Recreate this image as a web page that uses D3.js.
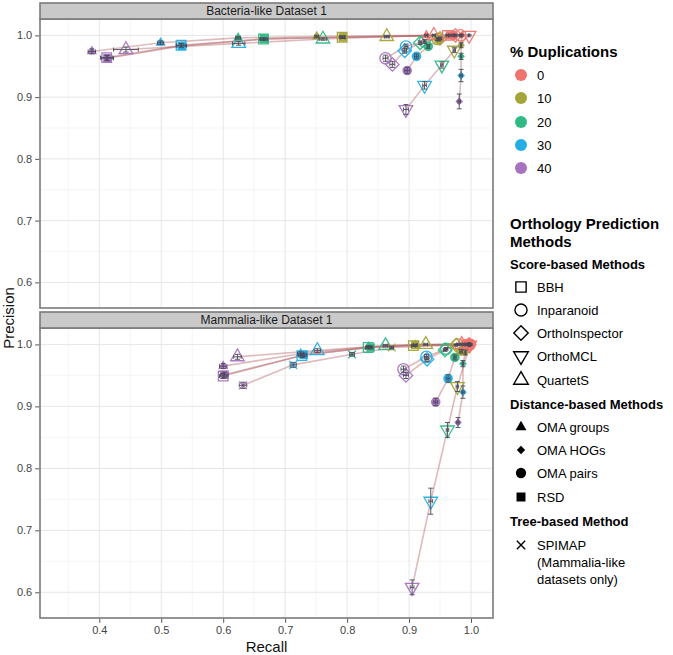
<!DOCTYPE html>
<html><head><meta charset="utf-8">
<script src="https://cdn.jsdelivr.net/npm/d3@7"></script>
<style>body{margin:0;background:#fff;} svg{display:block;font-family:"Liberation Sans",Arial,Helvetica,sans-serif;}</style>
</head><body><svg id="c" width="673" height="655"></svg>
<script>
// ---------------- DATA ----------------
const dupLevels = ["0", "10", "20", "30", "40"];
const dupColors = ["#F0746E", "#A4A43A", "#2FBA85", "#25AEE6", "#A772C0"];
const methods = ["BBH", "Inparanoid", "OrthoInspector", "OrthoMCL", "QuartetS", "OMA groups", "OMA HOGs", "OMA pairs", "RSD", "SPIMAP"];
const methodShapes = ["squareOpen", "circleOpen", "diamondOpen", "triDownOpen", "triUpOpen", "triUpFilled", "diamondFilled", "circleFilled", "squareFilled", "cross"];
const panelTitles = ["Bacteria-like Dataset 1", "Mammalia-like Dataset 1"];
const xTicks = [0.4, 0.5, 0.6, 0.7, 0.8, 0.9, 1.0];
const yTicks = [0.6, 0.7, 0.8, 0.9, 1.0];

// values ordered by duplication level 0,10,20,30,40 ; rows follow `methods`
const bactRecall = [
  [0.962, 0.792, 0.665, 0.532, 0.412],
  [0.983, 0.946, 0.925, 0.895, 0.862],
  [0.975, 0.950, 0.918, 0.893, 0.873],
  [0.997, 0.973, 0.953, 0.925, 0.895],
  [0.940, 0.864, 0.761, 0.625, 0.443],
  [0.928, 0.751, 0.624, 0.499, 0.388],
  [0.985, 0.984, 0.984, 0.984, 0.981],
  [0.972, 0.948, 0.931, 0.912, 0.897],
  [0.966, 0.793, 0.666, 0.533, 0.413],
  null
];
const bactPrecision = [
  [1.000, 0.997, 0.994, 0.984, 0.964],
  [1.000, 0.994, 0.990, 0.982, 0.963],
  [1.000, 0.995, 0.988, 0.975, 0.953],
  [1.000, 0.976, 0.952, 0.919, 0.880],
  [1.000, 0.998, 0.994, 0.987, 0.977],
  [1.000, 0.998, 0.996, 0.988, 0.974],
  [1.000, 0.984, 0.966, 0.935, 0.893],
  [1.000, 0.993, 0.982, 0.966, 0.943],
  [1.000, 0.997, 0.994, 0.983, 0.963],
  null
];
const bactRecallErr = [
  [0.002, 0.004, 0.006, 0.008, 0.010],
  [0.001, 0.002, 0.002, 0.003, 0.004],
  [0.001, 0.002, 0.002, 0.003, 0.004],
  [0.001, 0.002, 0.002, 0.003, 0.004],
  [0.002, 0.004, 0.006, 0.010, 0.020],
  [0.002, 0.003, 0.004, 0.005, 0.006],
  [0.001, 0.001, 0.001, 0.002, 0.002],
  [0.001, 0.002, 0.002, 0.003, 0.004],
  [0.002, 0.004, 0.006, 0.008, 0.010],
  null
];
const bactPrecisionErr = [
  [0.001, 0.002, 0.002, 0.003, 0.004],
  [0.001, 0.002, 0.003, 0.004, 0.005],
  [0.001, 0.002, 0.003, 0.004, 0.005],
  [0.001, 0.004, 0.005, 0.006, 0.008],
  [0.001, 0.002, 0.002, 0.003, 0.004],
  [0.001, 0.002, 0.002, 0.003, 0.004],
  [0.001, 0.004, 0.005, 0.010, 0.012],
  [0.001, 0.002, 0.003, 0.004, 0.005],
  [0.001, 0.002, 0.002, 0.003, 0.004],
  null
];
const mammRecall = [
  [0.995, 0.907, 0.834, 0.727, 0.600],
  [0.998, 0.979, 0.960, 0.928, 0.891],
  [0.997, 0.976, 0.958, 0.929, 0.895],
  [0.998, 0.978, 0.962, 0.935, 0.905],
  [0.985, 0.927, 0.862, 0.752, 0.623],
  [0.995, 0.910, 0.835, 0.725, 0.600],
  [0.999, 0.991, 0.987, 0.987, 0.979],
  [0.997, 0.984, 0.974, 0.963, 0.943],
  [0.997, 0.910, 0.838, 0.730, 0.602],
  [0.990, 0.872, 0.808, 0.713, 0.632]
];
const mammPrecision = [
  [1.000, 0.998, 0.995, 0.982, 0.949],
  [1.000, 1.000, 0.993, 0.980, 0.960],
  [1.000, 0.999, 0.991, 0.976, 0.950],
  [0.999, 0.932, 0.862, 0.747, 0.608],
  [1.000, 1.000, 0.998, 0.990, 0.980],
  [1.000, 0.999, 0.996, 0.985, 0.965],
  [1.000, 0.987, 0.969, 0.923, 0.874],
  [1.000, 0.989, 0.979, 0.945, 0.907],
  [1.000, 0.999, 0.995, 0.983, 0.951],
  [1.000, 0.995, 0.984, 0.967, 0.934]
];
const mammRecallErr = [
  [0.001, 0.003, 0.004, 0.005, 0.006],
  [0.001, 0.002, 0.002, 0.003, 0.004],
  [0.001, 0.002, 0.002, 0.003, 0.004],
  [0.001, 0.002, 0.002, 0.003, 0.003],
  [0.001, 0.003, 0.004, 0.005, 0.006],
  [0.001, 0.003, 0.004, 0.005, 0.006],
  [0.001, 0.001, 0.001, 0.002, 0.002],
  [0.001, 0.002, 0.002, 0.003, 0.003],
  [0.001, 0.003, 0.004, 0.005, 0.006],
  [0.001, 0.003, 0.004, 0.005, 0.006]
];
const mammPrecisionErr = [
  [0.001, 0.001, 0.002, 0.003, 0.004],
  [0.001, 0.001, 0.002, 0.004, 0.005],
  [0.001, 0.001, 0.002, 0.004, 0.005],
  [0.001, 0.008, 0.012, 0.021, 0.012],
  [0.001, 0.001, 0.002, 0.003, 0.004],
  [0.001, 0.001, 0.002, 0.003, 0.004],
  [0.001, 0.004, 0.005, 0.010, 0.008],
  [0.001, 0.003, 0.004, 0.006, 0.006],
  [0.001, 0.001, 0.002, 0.003, 0.004],
  [0.001, 0.002, 0.003, 0.004, 0.005]
];
const datasets = [
  {title: panelTitles[0], rec: bactRecall, prec: bactPrecision, recErr: bactRecallErr, precErr: bactPrecisionErr},
  {title: panelTitles[1], rec: mammRecall, prec: mammPrecision, recErr: mammRecallErr, precErr: mammPrecisionErr}
];

// legend content
const legendScore = ["BBH", "Inparanoid", "OrthoInspector", "OrthoMCL", "QuartetS"];
const legendDistance = ["OMA groups", "OMA HOGs", "OMA pairs", "RSD"];
const legendTree = ["SPIMAP"];

// ---------------- DRAW ----------------
const svg = d3.select("#c");
const panelLeft = 40, panelRight = 493;
const panels = [{stripTop: 3, top: 19, bottom: 308}, {stripTop: 312, top: 328, bottom: 618}];
const x = d3.scaleLinear().domain([0.3043, 1.0355]).range([panelLeft, panelRight]);

const symX = {draw(ctx, size) { const r = Math.sqrt(size) / 2; ctx.moveTo(-r, -r); ctx.lineTo(r, r); ctx.moveTo(r, -r); ctx.lineTo(-r, r); }};
const symDiamondEq = {draw(ctx, size) { const r = Math.sqrt(size / 2); ctx.moveTo(0, -r); ctx.lineTo(r, 0); ctx.lineTo(0, r); ctx.lineTo(-r, 0); ctx.closePath(); }};
const shapeSpec = {
  squareOpen:   {type: d3.symbolSquare,   size: 92, fill: false},
  circleOpen:   {type: d3.symbolCircle,   size: 100, fill: false},
  diamondOpen:  {type: symDiamondEq,      size: 90, fill: false},
  triDownOpen:  {type: d3.symbolTriangle, size: 80, fill: false, rot: 180},
  triUpOpen:    {type: d3.symbolTriangle, size: 80, fill: false},
  triUpFilled:  {type: d3.symbolTriangle, size: 45, fill: true},
  diamondFilled:{type: symDiamondEq,      size: 30, fill: true},
  circleFilled: {type: d3.symbolCircle,   size: 72, fill: true},
  squareFilled: {type: d3.symbolSquare,   size: 70, fill: true},
  cross:        {type: symX,              size: 60, fill: false, stroke: true}
};

function drawSymbol(g, shape, cx, cy, color, scale, sw) {
  const s = shapeSpec[shape];
  const p = d3.symbol().type(s.type).size(s.size * scale)();
  const el = g.append("path").attr("d", p)
    .attr("transform", `translate(${cx},${cy})` + (s.rot ? ` rotate(${s.rot})` : ""));
  if (s.fill) el.attr("fill", color).attr("stroke", "none");
  else el.attr("fill", "none").attr("stroke", color).attr("stroke-width", sw);
  return el;
}

datasets.forEach((ds, pi) => {
  const P = panels[pi];
  const y = d3.scaleLinear().domain([0.5585, 1.0265]).range([P.bottom, P.top]);
  const g = svg.append("g");
  g.append("rect").attr("x", panelLeft).attr("y", P.top).attr("width", panelRight - panelLeft).attr("height", P.bottom - P.top).attr("fill", "#fff");
  const xMinor = xTicks.map(t => t - 0.05).concat([1.05]).filter(t => t > x.domain()[0] && t < x.domain()[1]);
  const yMinor = yTicks.map(t => t - 0.05).concat([1.05]).filter(t => t > y.domain()[0] && t < y.domain()[1]);
  g.selectAll(null).data(xMinor).join("line").attr("x1", d => x(d)).attr("x2", d => x(d)).attr("y1", P.top).attr("y2", P.bottom).attr("stroke", "#f3f3f3").attr("stroke-width", 0.8);
  g.selectAll(null).data(yMinor).join("line").attr("y1", d => y(d)).attr("y2", d => y(d)).attr("x1", panelLeft).attr("x2", panelRight).attr("stroke", "#f3f3f3").attr("stroke-width", 0.8);
  g.selectAll(null).data(xTicks).join("line").attr("x1", d => x(d)).attr("x2", d => x(d)).attr("y1", P.top).attr("y2", P.bottom).attr("stroke", "#e6e6e6").attr("stroke-width", 1);
  g.selectAll(null).data(yTicks).join("line").attr("y1", d => y(d)).attr("y2", d => y(d)).attr("x1", panelLeft).attr("x2", panelRight).attr("stroke", "#e6e6e6").attr("stroke-width", 1);

  const line = d3.line().x(d => x(d[0])).y(d => y(d[1]));
  const pg = g.append("g");
  methods.forEach((m, mi) => {
    if (!ds.rec[mi]) return;
    const pts = ds.rec[mi].map((r, k) => [r, ds.prec[mi][k]]);
    pg.append("path").attr("d", line(pts)).attr("fill", "none").attr("stroke", "#b05e62").attr("stroke-opacity", 0.42).attr("stroke-width", 1.6);
  });
  for (let k = dupLevels.length - 1; k >= 0; k--) {
    methods.forEach((m, mi) => {
      if (!ds.rec[mi]) return;
      drawSymbol(pg, methodShapes[mi], x(ds.rec[mi][k]), y(ds.prec[mi][k]), dupColors[k], 1, 1.3).attr("opacity", 0.95);
    });
  }
  const eg = g.append("g").attr("stroke", "#4a4a58").attr("stroke-width", 0.9).attr("fill", "none");
  methods.forEach((m, mi) => {
    if (!ds.rec[mi]) return;
    ds.rec[mi].forEach((r, k) => {
      const p = ds.prec[mi][k], pe = ds.precErr[mi][k], re = ds.recErr[mi][k];
      const cx = x(r), cy = y(p);
      const y1 = y(p - pe), y2 = y(p + pe);
      eg.append("line").attr("x1", cx).attr("x2", cx).attr("y1", y1).attr("y2", y2);
      eg.append("line").attr("x1", cx - 2.5).attr("x2", cx + 2.5).attr("y1", y1).attr("y2", y1);
      eg.append("line").attr("x1", cx - 2.5).attr("x2", cx + 2.5).attr("y1", y2).attr("y2", y2);
      const x1 = x(r - re), x2 = x(r + re);
      eg.append("line").attr("x1", x1).attr("x2", x2).attr("y1", cy).attr("y2", cy);
      eg.append("line").attr("x1", x1).attr("x2", x1).attr("y1", cy - 2).attr("y2", cy + 2);
      eg.append("line").attr("x1", x2).attr("x2", x2).attr("y1", cy - 2).attr("y2", cy + 2);
    });
  });

  g.append("rect").attr("x", panelLeft).attr("y", P.top).attr("width", panelRight - panelLeft).attr("height", P.bottom - P.top).attr("fill", "none").attr("stroke", "#7a7a7a").attr("stroke-width", 1.6);
  g.append("rect").attr("x", panelLeft).attr("y", P.stripTop).attr("width", panelRight - panelLeft).attr("height", P.top - P.stripTop).attr("fill", "#c9c9c9").attr("stroke", "#7a7a7a").attr("stroke-width", 1.6);
  g.append("text").attr("x", (panelLeft + panelRight) / 2).attr("y", (P.stripTop + P.top) / 2).attr("dy", "0.35em").attr("text-anchor", "middle").attr("font-size", 12).attr("fill", "#1a1a1a").text(ds.title);

  const ya = d3.axisLeft(y).tickValues(yTicks).tickFormat(d3.format(".1f")).tickSize(4).tickPadding(3);
  const yg = g.append("g").attr("transform", `translate(${panelLeft - 0.8},0)`).call(ya);
  yg.select(".domain").remove();
  yg.selectAll("line").attr("stroke", "#555");
  yg.selectAll("text").attr("font-size", 11).attr("fill", "#444").attr("font-family", "Liberation Sans, Arial, sans-serif");

  if (pi === 1) {
    const xa = d3.axisBottom(x).tickValues(xTicks).tickFormat(d3.format(".1f")).tickSize(4).tickPadding(3);
    const xg = g.append("g").attr("transform", `translate(0,${P.bottom + 0.8})`).call(xa);
    xg.select(".domain").remove();
    xg.selectAll("line").attr("stroke", "#555");
    xg.selectAll("text").attr("font-size", 11).attr("fill", "#444").attr("font-family", "Liberation Sans, Arial, sans-serif");
  }
});

svg.append("text").attr("x", (panelLeft + panelRight) / 2).attr("y", 647).attr("dy", "0.35em").attr("text-anchor", "middle").attr("font-size", 15).attr("fill", "#111").text("Recall");
svg.append("text").attr("transform", `translate(9,318) rotate(-90)`).attr("dy", "0.35em").attr("text-anchor", "middle").attr("font-size", 15).attr("fill", "#111").text("Precision");

// ---------------- LEGEND ----------------
const L = svg.append("g");
const lx = 510, kx = 521, tx = 537;
L.append("text").attr("x", lx).attr("y", 52).attr("dy", "0.35em").attr("font-size", 15).attr("font-weight", "bold").text("% Duplications");
const dupY = [75, 98, 122, 145, 168];
dupLevels.forEach((d, i) => {
  L.append("circle").attr("cx", kx).attr("cy", dupY[i]).attr("r", 6).attr("fill", dupColors[i]);
  L.append("text").attr("x", tx).attr("y", dupY[i]).attr("dy", "0.35em").attr("font-size", 13).text(d);
});
L.append("text").attr("x", lx).attr("y", 224).attr("dy", "0.35em").attr("font-size", 15).attr("font-weight", "bold").text("Orthology Prediction");
L.append("text").attr("x", lx).attr("y", 242).attr("dy", "0.35em").attr("font-size", 15).attr("font-weight", "bold").text("Methods");

function legendGroup(title, ty, items, itemYs) {
  L.append("text").attr("x", lx).attr("y", ty).attr("dy", "0.35em").attr("font-size", 13).attr("font-weight", "bold").text(title);
  items.forEach((m, i) => {
    const mi = methods.indexOf(m);
    drawSymbol(L, methodShapes[mi], kx, itemYs[i], "#000", 1.15, 1.4);
    L.append("text").attr("x", tx).attr("y", itemYs[i]).attr("dy", "0.35em").attr("font-size", 13).text(m);
  });
}
legendGroup("Score-based Methods", 264, legendScore, [287, 310, 333, 356, 380]);
legendGroup("Distance-based Methods", 404, legendDistance, [427, 450, 473, 497]);
legendGroup("Tree-based Method", 521, legendTree, [545]);
L.append("text").attr("x", tx).attr("y", 562).attr("dy", "0.35em").attr("font-size", 13).text("(Mammalia-like");
L.append("text").attr("x", tx).attr("y", 579).attr("dy", "0.35em").attr("font-size", 13).text("datasets only)");
</script>
</body></html>
